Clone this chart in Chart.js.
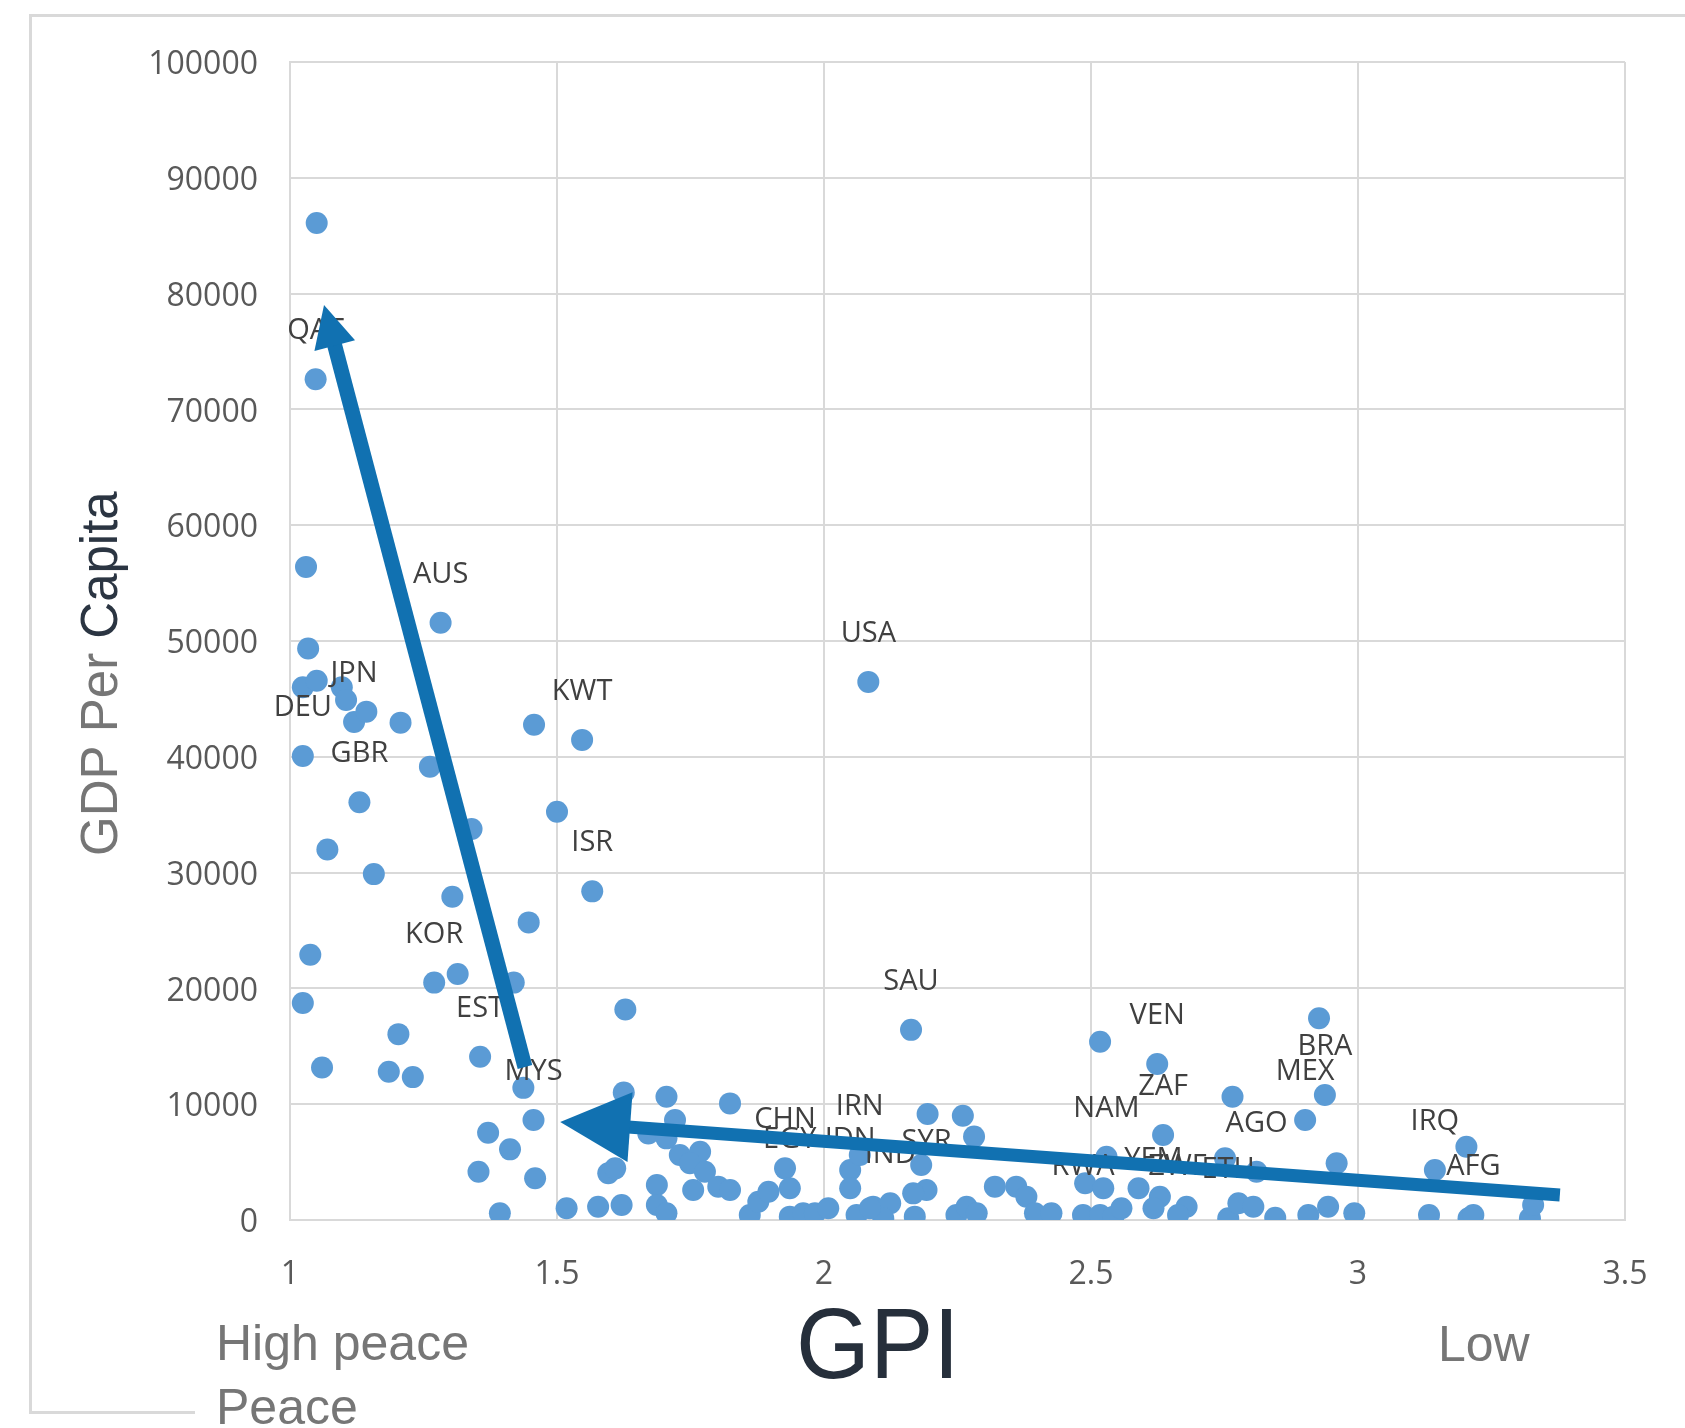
<!DOCTYPE html>
<html>
<head>
<meta charset="utf-8">
<title>GDP Per Capita vs GPI</title>
<script src="https://cdn.jsdelivr.net/npm/chart.js@4.4.1/dist/chart.umd.min.js"></script>
<style>
  body { margin: 0; background: #fff; }
  #wrap { position: relative; width: 1685px; height: 1428px; }
  #chart { position: absolute; left: 0; top: 0; }
  .frame { position: absolute; left: 29px; top: 14px; width: 1656px; height: 1397px;
           border-top: 3px solid #d9d9d9; border-left: 3px solid #d9d9d9; }
  .frame-foot { position: absolute; left: 29px; top: 1411px; width: 166px; height: 3px; background: #d9d9d9; }
  .txt { position: absolute; font-family: "Liberation Sans", Arial, sans-serif; line-height: 1; white-space: nowrap; }
  .ytitle { left: 74px; top: 856px; font-size: 51px; color: #767676; transform-origin: 0 0; transform: rotate(-90deg); }
  .ytitle span { color: #2b3542; }
  .gpi { left: 796px; top: 1293px; font-size: 100px; color: #262f3b; transform-origin: 0 0; transform: scaleX(0.95); }
  .side { font-size: 50px; color: #767676; }
</style>
</head>
<body>
<div id="wrap">
  <div class="frame"></div>
  <div class="frame-foot"></div>
  <canvas id="chart" width="1685" height="1428"></canvas>
  <div class="txt ytitle">GDP Per <span>Capita</span></div>
  <div class="txt gpi">GPI</div>
  <div class="txt side" style="left:216px; top:1318px;">High peace</div>
  <div class="txt side" style="left:216px; top:1382px;">Peace</div>
  <div class="txt side" style="left:1438px; top:1319px;">Low</div>
</div>
<script>
// GPI score of each country (x)
const gpi = [
  1.05, 1.048, 1.03, 1.034, 1.024, 1.05, 1.097, 1.105, 1.12, 1.143,
  1.207, 1.024, 1.282, 1.262, 1.13, 1.07, 1.157, 1.34, 1.304, 1.038,
  1.27, 1.314, 1.419, 1.024, 1.203, 1.06, 1.185, 1.23, 1.356, 1.437,
  1.457, 1.547, 1.5, 1.566, 1.447, 2.083, 1.628, 2.163,
  1.625, 1.705, 1.824, 1.456, 1.371, 1.721, 1.412, 1.671, 1.705, 1.73,
  1.768, 1.749, 1.777, 1.353, 1.459, 1.596, 1.609, 1.687, 1.687, 1.705,
  1.755, 1.802, 1.824, 1.393, 1.518, 1.577, 1.621, 1.861, 1.877, 1.896,
  1.927, 1.936, 1.936, 1.961, 1.983, 2.008, 2.049, 2.049, 2.067, 2.061,
  2.092, 2.124, 2.111, 2.517, 2.624, 2.927, 2.765, 2.938, 2.901, 2.194,
  2.26, 2.281, 2.635, 2.182, 2.751, 2.81, 2.96, 2.529, 2.489, 2.523,
  2.589, 2.629, 2.617, 2.679, 2.663, 2.192, 2.167, 2.17, 2.086, 2.32,
  2.36, 2.379, 2.395, 2.426, 2.248, 2.267, 2.286, 2.485, 2.517, 2.542,
  2.557, 2.757, 2.776, 2.804, 2.845, 2.907, 2.944, 2.993, 3.133, 3.144,
  3.203, 3.207, 3.216, 3.322, 3.328
];

// GDP per capita (y)
const gdp = [
  86100, 72600, 56400, 49350, 46000, 46570, 46000, 44900, 43000, 43900,
  42950, 40070, 51570, 39150, 36080, 32000, 29870, 33760, 27920, 22910,
  20500, 21240, 20500, 18740, 16050, 13170, 12800, 12340, 14100, 11410,
  42760, 41460, 35250, 28380, 25700, 46470, 18180, 16420,
  11000, 10650, 10070, 8640, 7540, 8640, 6100, 7480, 7050, 5610,
  5900, 4900, 4170, 4170, 3600, 4030, 4460, 3020, 1300, 580,
  2590, 2880, 2590, 580, 1010, 1150, 1300, 430, 1580, 2440,
  4460, 2740, 290, 580, 580, 1010, 4320, 2740, 5610, 430,
  1150, 1440, 150, 15400, 13470, 17420, 10650, 10800, 8640, 9150,
  9010, 7200, 7340, 4750, 5330, 4170, 4900, 5470, 3170, 2740,
  2740, 2010, 1010, 1150, 430, 2590, 2300, 290, 1010, 2880,
  2880, 2010, 580, 580, 430, 1150, 580, 430, 430, 290,
  1010, 150, 1440, 1150, 200, 430, 1150, 580, 430, 4320,
  6330, 150, 430, 150, 1300
];

// country code shown next to a point ('' = no label)
const codes = [
  '', 'QAT', '', '', '', '', '', '', 'JPN', '',
  '', 'DEU', 'AUS', '', 'GBR', '', '', '', '', '',
  'KOR', '', '', '', '', '', '', '', 'EST', '',
  '', 'KWT', '', 'ISR', '', 'USA', '', 'SAU',
  '', '', '', 'MYS', '', '', '', '', '', '',
  '', '', '', '', '', '', '', '', '', '',
  '', '', '', '', '', '', '', '', '', '',
  'CHN', 'EGY', '', '', '', '', '', 'IDN', 'IRN', '',
  '', 'IND', '', '', 'VEN', '', '', 'BRA', 'MEX', '',
  '', '', 'ZAF', '', '', 'AGO', '', 'NAM', '', '',
  '', '', 'YEM', '', 'ZWE', 'SYR', '', '', '', '',
  '', '', '', '', '', '', '', 'RWA', '', '',
  '', 'ETH', '', '', '', '', '', '', '', 'IRQ',
  '', '', 'AFG', '', ''
];

const xTicks = [1, 1.5, 2, 2.5, 3, 3.5];
const yTicks = [0, 10000, 20000, 30000, 40000, 50000, 60000, 70000, 80000, 90000, 100000];

// trend arrows drawn over the chart: [gpi, gdp] tail -> head
const arrowFrom = [[1.44, 13210], [3.378, 2160]];
const arrowTo = [[1.0637, 79020], [1.506, 8460]];
const arrowHead = [42, 70];
const arrowWidth = [15, 13];

const pointLabels = {
  id: 'pointLabels',
  afterDatasetsDraw(chart) {
    const ctx = chart.ctx;
    const meta = chart.getDatasetMeta(0);
    ctx.save();
    ctx.font = '29px "Open Sans"';
    ctx.fillStyle = '#404040';
    ctx.textAlign = 'center';
    ctx.textBaseline = 'alphabetic';
    meta.data.forEach((el, i) => {
      if (codes[i]) ctx.fillText(codes[i], el.x, el.y - 40);
    });
    ctx.restore();
  }
};

const arrows = {
  id: 'arrows',
  afterDatasetsDraw(chart) {
    const ctx = chart.ctx;
    const xs = chart.scales.x, ys = chart.scales.y;
    ctx.save();
    ctx.fillStyle = '#1171b1';
    ctx.strokeStyle = '#1171b1';
    arrowFrom.forEach((a, i) => {
      const x0 = xs.getPixelForValue(a[0]), y0 = ys.getPixelForValue(a[1]);
      const x1 = xs.getPixelForValue(arrowTo[i][0]), y1 = ys.getPixelForValue(arrowTo[i][1]);
      const ang = Math.atan2(y1 - y0, x1 - x0);
      const h = arrowHead[i];
      const bx = x1 - Math.cos(ang) * h, by = y1 - Math.sin(ang) * h;
      ctx.lineWidth = arrowWidth[i];
      ctx.lineCap = 'butt';
      ctx.beginPath();
      ctx.moveTo(x0, y0);
      ctx.lineTo(bx + Math.cos(ang) * 2, by + Math.sin(ang) * 2);
      ctx.stroke();
      const px = -Math.sin(ang) * h / 2, py = Math.cos(ang) * h / 2;
      ctx.beginPath();
      ctx.moveTo(x1, y1);
      ctx.lineTo(bx + px, by + py);
      ctx.lineTo(bx - px, by - py);
      ctx.closePath();
      ctx.fill();
    });
    ctx.restore();
  }
};

const tickFont = { family: '"Open Sans"', size: 32 };

new Chart(document.getElementById('chart'), {
  type: 'scatter',
  data: {
    datasets: [{
      data: gpi.map((x, i) => ({ x: x, y: gdp[i] })),
      backgroundColor: '#5b9bd5',
      borderWidth: 0,
      pointRadius: 11,
      pointHoverRadius: 11
    }]
  },
  options: {
    responsive: false,
    animation: false,
    devicePixelRatio: 1,
    layout: { padding: { top: 62, right: 60, left: 0, bottom: 0 } },
    plugins: {
      legend: { display: false },
      tooltip: { enabled: false }
    },
    scales: {
      x: {
        type: 'linear',
        min: 1,
        max: 3.5,
        afterBuildTicks: s => { s.ticks = xTicks.map(v => ({ value: v })); },
        afterFit: s => { s.height = 208; },
        grid: { color: '#d9d9d9', lineWidth: 2, drawTicks: false },
        border: { color: '#d9d9d9', width: 2 },
        ticks: { font: tickFont, color: '#595959', padding: 36, callback: v => String(v) }
      },
      y: {
        type: 'linear',
        min: 0,
        max: 100000,
        afterBuildTicks: s => { s.ticks = yTicks.map(v => ({ value: v })); },
        afterFit: s => { s.width = 290; },
        grid: { color: '#d9d9d9', lineWidth: 2, drawTicks: false },
        border: { color: '#d9d9d9', width: 2 },
        ticks: { font: tickFont, color: '#595959', padding: 32, labelOffset: 3, callback: v => String(v) }
      }
    }
  },
  plugins: [pointLabels, arrows]
});
</script>
</body>
</html>
